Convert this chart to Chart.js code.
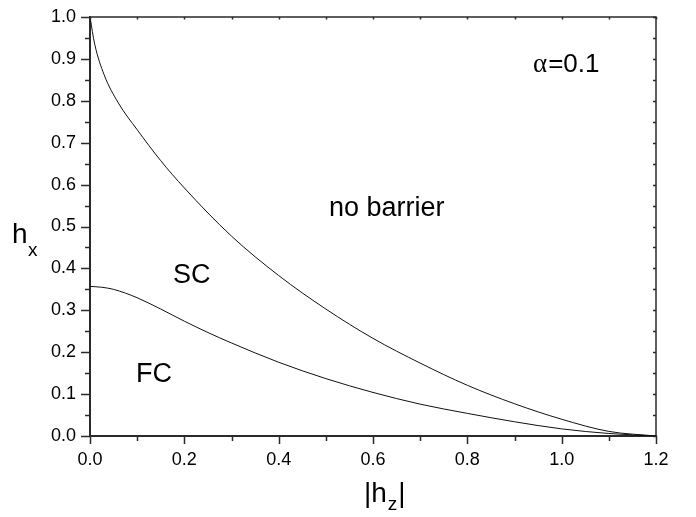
<!DOCTYPE html>
<html>
<head>
<meta charset="utf-8">
<script src="https://cdn.jsdelivr.net/npm/chart.js@4/dist/chart.umd.min.js"></script>
<style>
html,body{margin:0;padding:0;background:#fff;}
canvas{display:block;}
</style>
</head>
<body>
<canvas id="c" width="696" height="517"></canvas>
<script>
// ---- data ----
const upperX = [0, 0.01, 0.03, 0.06, 0.1, 0.15, 0.2, 0.3, 0.4, 0.5, 0.6, 0.7, 0.8, 0.9, 1.0, 1.1, 1.2];
const upperY = [1.0, 0.935, 0.862, 0.795, 0.731, 0.657, 0.592, 0.477, 0.383, 0.303, 0.233, 0.174, 0.121, 0.077, 0.040, 0.011, 0.0];
const lowerX = [0, 0.025, 0.05, 0.075, 0.1, 0.15, 0.2, 0.25, 0.3, 0.4, 0.5, 0.6, 0.7, 0.8, 0.9, 1.0, 1.1, 1.2];
const lowerY = [0.357, 0.355, 0.350, 0.341, 0.330, 0.303, 0.274, 0.247, 0.222, 0.176, 0.137, 0.104, 0.076, 0.054, 0.034, 0.017, 0.006, 0.0];
const xTickLabels = ['0.0', '0.2', '0.4', '0.6', '0.8', '1.0', '1.2'];
const yTickLabels = ['0.0', '0.1', '0.2', '0.3', '0.4', '0.5', '0.6', '0.7', '0.8', '0.9', '1.0'];
const regionLabels = ['no barrier', 'SC', 'FC'];
const alphaLabel = ['α', '=0.1'];

const toPts = (xs, ys) => xs.map((x, i) => ({x: x, y: ys[i]}));
const AX = '#2a2a2a';

const decor = {
  id: 'decor',
  afterDraw(chart) {
    const ctx = chart.ctx, xs = chart.scales.x, ys = chart.scales.y, a = chart.chartArea;
    ctx.save();
    ctx.strokeStyle = AX;
    ctx.lineWidth = 1.5;
    ctx.beginPath();
    ctx.moveTo(a.left, a.top); ctx.lineTo(a.right, a.top); ctx.lineTo(a.right, a.bottom);
    ctx.stroke();
    ctx.beginPath();
    for (let i = 0; i <= 12; i++) {
      const px = Math.round(xs.getPixelForValue(i / 10)) + 0.5;
      const len = (i % 2 === 0) ? 8 : 5;
      ctx.moveTo(px, a.bottom); ctx.lineTo(px, a.bottom + len);
      ctx.moveTo(px, a.top); ctx.lineTo(px, a.top + 2.5);
    }
    for (let i = 0; i <= 20; i++) {
      const py = Math.round(ys.getPixelForValue(i / 20)) + 0.5;
      const len = (i % 2 === 0) ? 9 : 5;
      ctx.moveTo(a.left, py); ctx.lineTo(a.left - len, py);
      ctx.moveTo(a.right, py); ctx.lineTo(a.right - 3, py);
    }
    ctx.stroke();

    ctx.fillStyle = '#000';
    ctx.textBaseline = 'alphabetic';
    ctx.textAlign = 'left';
    ctx.font = '27px "Liberation Sans", Arial, sans-serif';
    ctx.fillText(regionLabels[0], 329, 216);
    ctx.fillText(regionLabels[1], 173, 283);
    ctx.fillText(regionLabels[2], 136, 382);
    ctx.font = '27px "Liberation Serif", "Times New Roman", serif';
    ctx.fillText(alphaLabel[0], 533, 72);
    const aw = ctx.measureText(alphaLabel[0]).width;
    ctx.font = '26px "Liberation Sans", Arial, sans-serif';
    ctx.fillText(alphaLabel[1], 533 + aw + 1, 72);

    ctx.font = '28px "Liberation Sans", Arial, sans-serif';
    ctx.fillText('h', 12, 243);
    ctx.font = '19px "Liberation Sans", Arial, sans-serif';
    ctx.fillText('x', 28, 256);
    ctx.font = '28px "Liberation Sans", Arial, sans-serif';
    let x0 = 364;
    ctx.fillText('|h', x0, 502);
    x0 += ctx.measureText('|h').width + 1;
    ctx.font = '19px "Liberation Sans", Arial, sans-serif';
    ctx.fillText('z', x0, 510);
    x0 += ctx.measureText('z').width + 1;
    ctx.font = '28px "Liberation Sans", Arial, sans-serif';
    ctx.fillText('|', x0, 502);
    ctx.restore();
  }
};

new Chart(document.getElementById('c'), {
  type: 'scatter',
  data: {
    datasets: [
      {data: toPts(upperX, upperY), showLine: true, borderColor: '#111', borderWidth: 1, pointRadius: 0, cubicInterpolationMode: 'monotone', fill: false},
      {data: toPts(lowerX, lowerY), showLine: true, borderColor: '#111', borderWidth: 1, pointRadius: 0, cubicInterpolationMode: 'monotone', fill: false}
    ]
  },
  options: {
    responsive: false,
    animation: false,
    devicePixelRatio: 1,
    layout: {padding: {left: 0, top: 17, right: 40, bottom: 0}},
    plugins: {legend: {display: false}, tooltip: {enabled: false}},
    scales: {
      x: {
        type: 'linear', min: 0, max: 1.2,
        afterFit: s => { s.height = 81; },
        grid: {display: false},
        border: {display: true, color: AX, width: 2},
        ticks: {
          stepSize: 0.1, autoSkip: false, maxRotation: 0, padding: 5,
          color: '#000', font: {family: '"Liberation Sans", Arial, sans-serif', size: 18},
          callback: v => { const l = v.toFixed(1); return xTickLabels.includes(l) ? l : ''; }
        }
      },
      y: {
        type: 'linear', min: 0, max: 1.0,
        afterFit: s => { s.width = 90; },
        grid: {display: false},
        border: {display: true, color: AX, width: 2},
        ticks: {
          stepSize: 0.1, autoSkip: false, padding: 6,
          color: '#000', font: {family: '"Liberation Sans", Arial, sans-serif', size: 18},
          callback: v => { const l = v.toFixed(1); return yTickLabels.includes(l) ? l : ''; }
        }
      }
    }
  },
  plugins: [decor]
});
</script>
</body>
</html>
